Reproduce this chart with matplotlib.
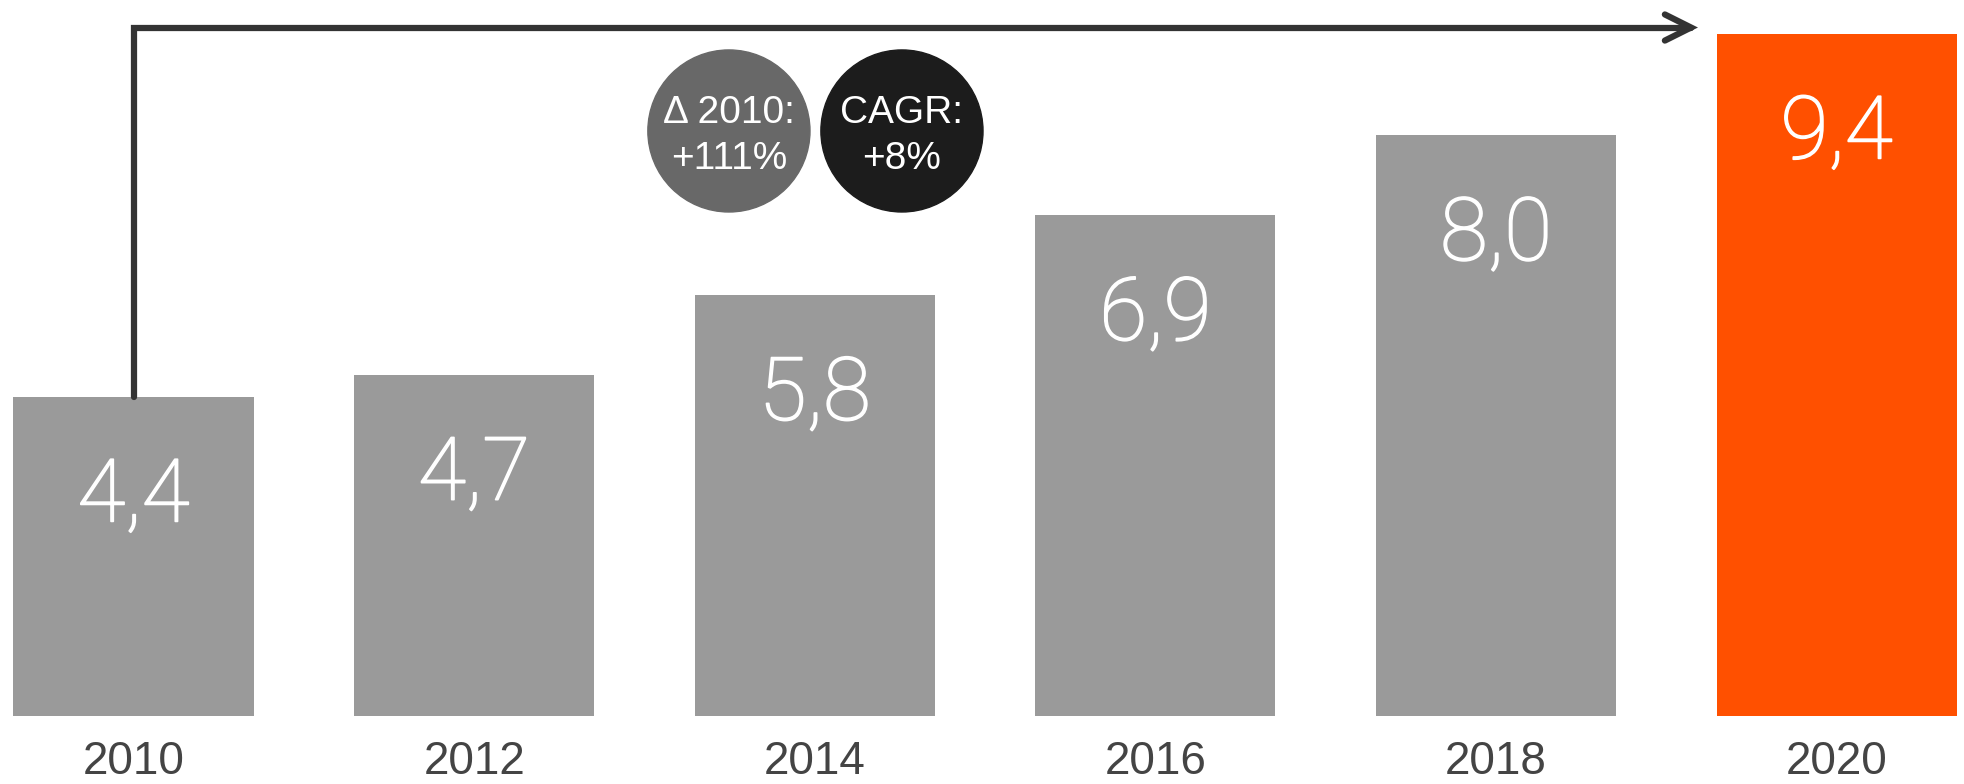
import matplotlib.pyplot as plt
import matplotlib.patheffects as pe
from matplotlib.patches import Ellipse

years = ['2010', '2012', '2014', '2016', '2018', '2020']
values = [4.4, 4.7, 5.8, 6.9, 8.0, 9.4]
value_labels = ['4,4', '4,7', '5,8', '6,9', '8,0', '9,4']
bar_colors = ['#9a9a9a'] * 5 + ['#ff5000']
bubble_texts = [['Δ 2010:', '+111%'], ['CAGR:', '+8%']]
bubble_colors = ['#686868', '#1c1c1c']

plt.rcParams['font.family'] = ['Liberation Sans', 'DejaVu Sans']

fig = plt.figure(figsize=(19.64, 7.84), dpi=100)
ax = fig.add_axes([0, 0, 1, 1])
ax.set_xlim(-0.392, 5.374)
ax.set_ylim(-0.937, 9.862)
ax.axis('off')

x = range(len(values))
ax.bar(x, values, width=0.705, color=bar_colors)

bold_a_bit = [pe.withStroke(linewidth=1.2, foreground='white')]
for i, (v, lab) in enumerate(zip(values, value_labels)):
    ax.text(i, v - 1.72, lab, ha='center', va='baseline', color='white',
            fontsize=63, family=['Roboto', 'DejaVu Sans'], fontweight='light',
            path_effects=bold_a_bit)
    ax.text(i, -0.80, years[i], ha='center', va='baseline', color='#444444',
            fontsize=33)

# arrow from first bar to the last one
ax.annotate('', xy=(4.593, 9.483), xytext=(0, values[0]),
            arrowprops=dict(arrowstyle='->,head_length=0.94,head_width=0.47',
                            connectionstyle='angle,angleA=90,angleB=0,rad=0',
                            color='#333333', lw=4.5, shrinkA=0, shrinkB=0,
                            mutation_scale=20, joinstyle='miter',
                            capstyle='round'))

# bubbles
for cx, lines, col in zip([1.748, 2.256], bubble_texts, bubble_colors):
    ax.add_patch(Ellipse((cx, 8.058), 2 * 0.238, 2 * 1.116, color=col))
    ax.text(cx, 8.168, lines[0], ha='center', va='baseline', color='white',
            fontsize=28)
    ax.text(cx, 7.534, lines[1], ha='center', va='baseline', color='white',
            fontsize=28)

fig.savefig('out.png', dpi=100)
